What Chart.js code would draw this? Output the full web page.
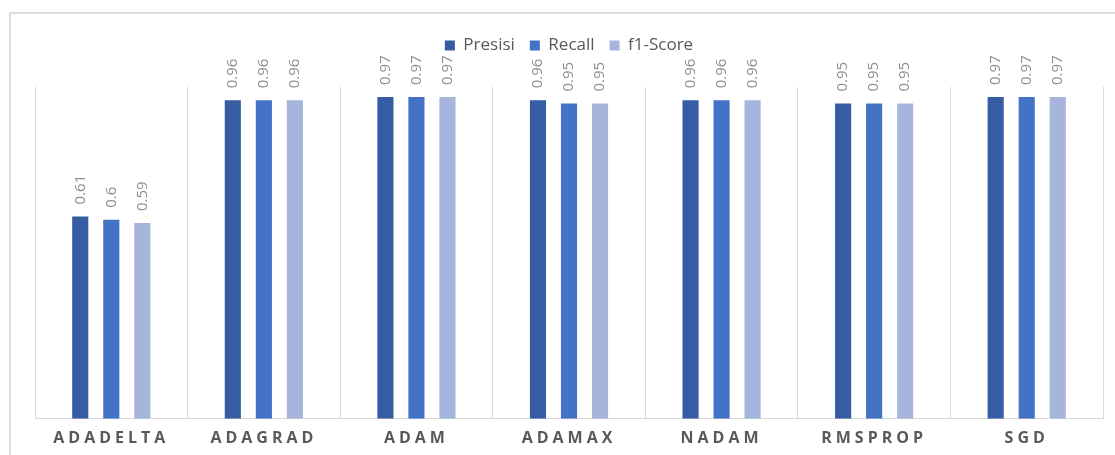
<!DOCTYPE html>
<html>
<head>
<meta charset="utf-8">
<script src="https://cdn.jsdelivr.net/npm/chart.js@4.4.1/dist/chart.umd.min.js"></script>
<style>
  html, body { margin: 0; padding: 0; background: #fff; }
  #frame { position: absolute; left: 9px; top: 12px; width: 1200px; height: 500px;
           border-top: 2px solid #dcdcdc; border-left: 2px solid #dcdcdc; }
  #wrap { position: absolute; left: 0; top: 0; width: 1115px; height: 455px; }
</style>
</head>
<body>
<div id="frame"></div>
<div id="wrap"><canvas id="chart"></canvas></div>
<script>
var optimizers = ['ADADELTA', 'ADAGRAD', 'ADAM', 'ADAMAX', 'NADAM', 'RMSPROP', 'SGD'];
var presisi = [0.61, 0.96, 0.97, 0.96, 0.96, 0.95, 0.97];
var recall  = [0.6, 0.96, 0.97, 0.95, 0.96, 0.95, 0.97];
var f1Score = [0.59, 0.96, 0.97, 0.95, 0.96, 0.95, 0.97];

// value labels drawn vertically above every bar
var barLabels = {
    id: 'barLabels',
    afterDatasetsDraw: function(chart) {
        var ctx = chart.ctx;
        chart.data.datasets.forEach(function(ds, i) {
            chart.getDatasetMeta(i).data.forEach(function(bar, j) {
                ctx.save();
                ctx.font = '15px "Open Sans"';
                ctx.fillStyle = '#8f8f8f';
                ctx.textAlign = 'left';
                ctx.textBaseline = 'middle';
                ctx.translate(bar.x, bar.y - 12);
                ctx.rotate(-Math.PI / 2);
                ctx.fillText(String(ds.data[j]), 0, 0);
                ctx.restore();
            });
        });
    }
};

// spaced out category labels + extra room under the legend
var tweaks = {
    id: 'tweaks',
    beforeUpdate: function(chart) {
        if (chart.legend && !chart.legend._patched) {
            var fit = chart.legend.fit;
            chart.legend.fit = function() { fit.call(this); this.height += 23; };
            chart.legend._patched = true;
        }
    },
    afterLayout: function(chart) {
        var sx = chart.scales.x;
        if (!sx._patched) {
            var draw = sx.drawLabels;
            sx.drawLabels = function(area) {
                chart.ctx.save();
                chart.ctx.letterSpacing = '4px';
                draw.call(this, area);
                chart.ctx.restore();
            };
            sx._patched = true;
        }
    }
};

var ctx = document.getElementById('chart').getContext('2d');
var chart = new Chart(ctx, {
    type: 'bar',
    data: {
        labels: optimizers,
        datasets: [
            { label: 'Presisi', data: presisi, backgroundColor: '#365ca3' },
            { label: 'Recall', data: recall, backgroundColor: '#4472c4' },
            { label: 'f1-Score', data: f1Score, backgroundColor: '#a7b5dc' }
        ]
    },
    options: {
        responsive: true,
        maintainAspectRatio: false,
        animation: false,
        datasets: { bar: { categoryPercentage: 0.61, barPercentage: 0.52 } },
        layout: { padding: { left: 35, right: 12, top: 22, bottom: -3 } },
        plugins: {
            legend: {
                position: 'top',
                labels: {
                    boxWidth: 10, boxHeight: 10, padding: 15,
                    color: '#595959',
                    font: { family: '"Open Sans"', size: 17 }
                }
            },
            tooltip: { enabled: false }
        },
        scales: {
            x: {
                grid: { color: '#d9d9d9', drawTicks: false },
                border: { color: '#d9d9d9' },
                ticks: {
                    color: '#595959', padding: 10,
                    font: { family: '"Open Sans"', size: 16, weight: 'bold' }
                }
            },
            y: { display: false, min: 0, max: 1 }
        }
    },
    plugins: [barLabels, tweaks]
});
</script>
</body>
</html>
